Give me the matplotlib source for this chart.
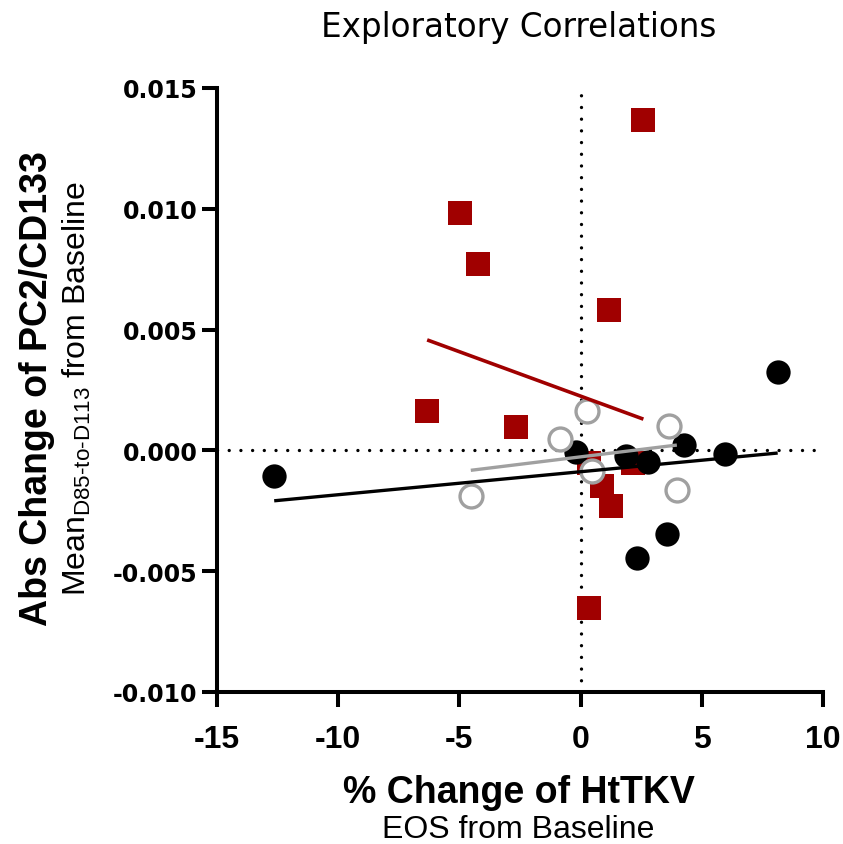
import numpy as np
import matplotlib
matplotlib.use("Agg")
from matplotlib import pyplot as plt
from matplotlib import font_manager

red_x = [2.59, -4.98, -4.24, 1.16, -6.33, -2.66, 0.36, 2.18, 0.87, 1.25, 0.34]
red_y = [0.01366, 0.00981, 0.00770, 0.00579, 0.00163, 0.00095,
         -0.00054, -0.00051, -0.00148, -0.00232, -0.00651]

black_x = [-12.64, -0.21, 1.86, 2.80, 4.27, 5.96, 8.13, 3.58, 2.33]
black_y = [-0.00105, -0.00006, -0.00024, -0.00047, 0.00023, -0.00017,
           0.00326, -0.00345, -0.00447]

gray_x = [0.26, -0.85, 3.66, 0.47, 3.97, -4.53]
gray_y = [0.00164, 0.00048, 0.00102, -0.00086, -0.00163, -0.00189]

x_ticks = [-15, -10, -5, 0, 5, 10]
y_ticks = [-0.010, -0.005, 0.000, 0.005, 0.010, 0.015]

RED = "#a00000"
GRAY = "#a0a0a0"

names = {f.name for f in font_manager.fontManager.ttflist}
NARROW = ["Liberation Sans Narrow", "Liberation Sans", "DejaVu Sans"]

plt.rcParams["mathtext.fontset"] = "custom"
plt.rcParams["mathtext.rm"] = NARROW[0] if NARROW[0] in names else "Liberation Sans"

fig = plt.figure(figsize=(8.43, 8.45), dpi=100)
ax = fig.add_axes([0.2574, 0.1799, 0.7189, 0.7148])

# reference lines through zero
ax.axhline(0, color="black", lw=2.4, ls=(0, (0.01, 3.5)), dash_capstyle="round", zorder=1)
ax.axvline(0, color="black", lw=2.4, ls=(0, (0.01, 3.5)), dash_capstyle="round", zorder=1)

ax.scatter(red_x, red_y, marker="s", s=17.5 ** 2, color=RED, lw=0, zorder=2)
ax.scatter(black_x, black_y, marker="o", s=17.5 ** 2, color="black", lw=0, zorder=3)
ax.scatter(gray_x, gray_y, marker="o", s=16.5 ** 2, facecolor="white",
           edgecolor=GRAY, lw=2.4, zorder=4)


def fit_line(xs, ys, color, lw):
    xs = np.asarray(xs)
    k, b = np.polyfit(xs, ys, 1)
    xx = np.array([xs.min(), xs.max()])
    ax.plot(xx, k * xx + b, color=color, lw=lw, solid_capstyle="butt", zorder=5)


fit_line(red_x, red_y, RED, 2.6)
fit_line(black_x, black_y, "black", 2.4)
fit_line(gray_x, gray_y, GRAY, 2.4)

ax.set_xlim(-15, 10)
ax.set_ylim(-0.010, 0.015)
ax.set_xticks(x_ticks)
ax.set_yticks(y_ticks)
ax.set_xticklabels([str(t) for t in x_ticks], family=NARROW, weight="bold", fontsize=23)
ax.set_yticklabels(["%.3f" % t for t in y_ticks], family="DejaVu Sans", weight="bold", fontsize=17)

for s in ["top", "right"]:
    ax.spines[s].set_visible(False)
for s in ["left", "bottom"]:
    ax.spines[s].set_linewidth(2.9)
ax.tick_params(width=2.9, length=11, direction="out")
ax.tick_params(axis="y", pad=3)
ax.tick_params(axis="x", pad=12)

fig.text(0.615, 0.968, "Exploratory Correlations", ha="center", va="center",
         family="DejaVu Sans", fontsize=23.5)
fig.text(0.615, 0.062, "% Change of HtTKV", ha="center", va="center",
         family=NARROW, weight="bold", fontsize=27)
fig.text(0.615, 0.018, "EOS from Baseline", ha="center", va="center",
         family=NARROW, fontsize=23)
fig.text(0.044, 0.54, "Abs Change of PC2/CD133", ha="center", va="center",
         rotation=90, family=NARROW, weight="bold", fontsize=27)
fig.text(0.091, 0.54, r"$\mathregular{Mean_{D85‐to‐D113}}$ from Baseline", ha="center",
         va="center", rotation=90, family=NARROW, fontsize=23)

fig.savefig("out.png", dpi=100)
